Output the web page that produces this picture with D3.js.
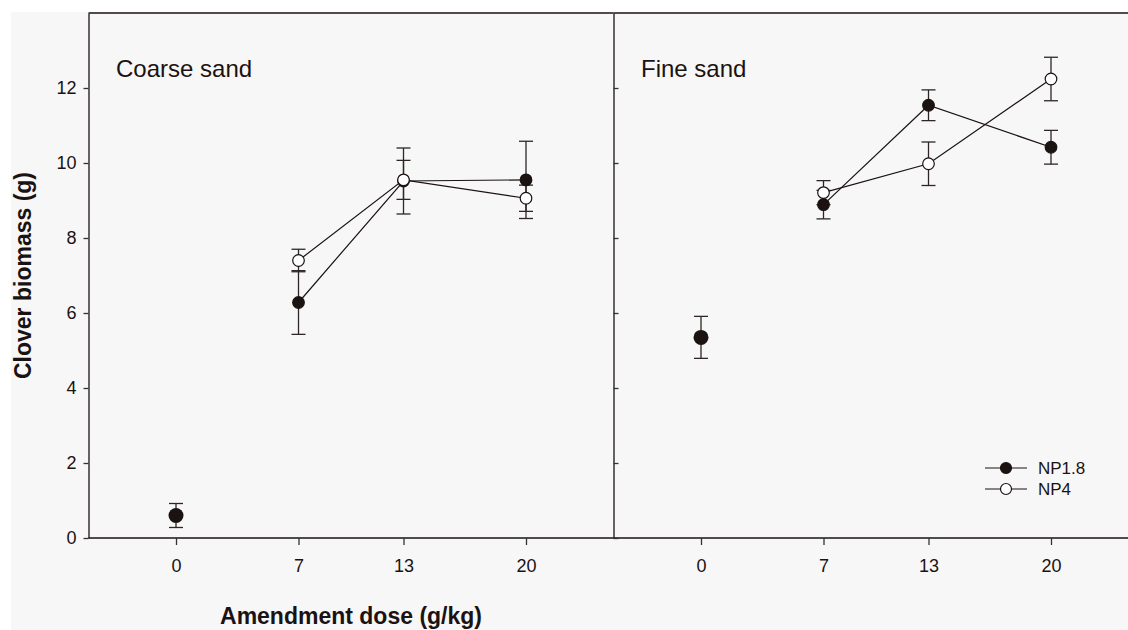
<!DOCTYPE html>
<html>
<head>
<meta charset="utf-8">
<script src="https://d3js.org/d3.v7.min.js"></script>
<style>
  body { margin: 0; background: #fff; }
  svg { display: block; }
  text { font-family: "Liberation Sans", Arial, sans-serif; fill: #1b1212; }
</style>
</head>
<body>
<div id="chart"></div>
<script>
// data
var doses = [7, 13, 20];
var xTicks = [0, 7, 13, 20];
var yTicks = [0, 2, 4, 6, 8, 10, 12];
var panels = ["Coarse sand", "Fine sand"];

var ctrlMean = [0.6, 5.35];
var ctrlErr = [0.32, 0.56];

var coarseNP18 = [6.28, 9.52, 9.55];
var coarseNP18Err = [0.85, 0.88, 1.03];
var coarseNP4 = [7.4, 9.55, 9.06];
var coarseNP4Err = [0.3, 0.52, 0.35];

var fineNP18 = [8.89, 11.54, 10.42];
var fineNP18Err = [0.38, 0.41, 0.45];
var fineNP4 = [9.21, 9.98, 12.24];
var fineNP4Err = [0.32, 0.58, 0.58];

var seriesNames = ["NP1.8", "NP4"];

var svgWidth = 1128, svgHeight = 630;
var ink = "#1b1212";

var svg = d3.select("#chart").append("svg")
    .attr("width", svgWidth).attr("height", svgHeight);

// grey page area
svg.append("rect").attr("x", 11).attr("y", 12)
    .attr("width", svgWidth - 11).attr("height", svgHeight - 12)
    .attr("fill", "#f7f7f7");

var y = d3.scaleLinear().domain([0, 14]).range([538, 13]);
var panelW = 525, left0 = 88.5;

var xScales = panels.map(function(p, i) {
    return d3.scaleLinear().domain([-5, 25]).range([left0 + i * panelW, left0 + (i + 1) * panelW]);
});

var panelData = [
    [
        { name: "NP1.8", vals: coarseNP18, err: coarseNP18Err, fill: ink },
        { name: "NP4", vals: coarseNP4, err: coarseNP4Err, fill: "#fff" }
    ],
    [
        { name: "NP1.8", vals: fineNP18, err: fineNP18Err, fill: ink },
        { name: "NP4", vals: fineNP4, err: fineNP4Err, fill: "#fff" }
    ]
];

panels.forEach(function(title, i) {
    var x = xScales[i];
    var g = svg.append("g");

    // x axis
    var xAxis = g.append("g").attr("transform", "translate(0,538)")
        .call(d3.axisBottom(x).tickValues(xTicks).tickSize(7).tickPadding(14).tickSizeOuter(0));
    xAxis.select(".domain").attr("stroke", ink).attr("stroke-width", 1.3)
        .attr("d", "M" + x.range()[0] + ",0H" + x.range()[1]);
    xAxis.selectAll(".tick line").attr("stroke", "#333").attr("stroke-width", 1.3);
    xAxis.selectAll(".tick text").attr("font-size", 18).attr("fill", ink);

    // y axis: outward on left panel, inward on right
    var yAxis = g.append("g").attr("transform", "translate(" + x.range()[0] + ",0)")
        .call((i === 0 ? d3.axisLeft(y) : d3.axisRight(y)).tickValues(yTicks).tickSize(5).tickPadding(7).tickSizeOuter(0));
    yAxis.select(".domain").attr("stroke", ink).attr("stroke-width", 1.3);
    yAxis.selectAll(".tick line").attr("stroke", "#333").attr("stroke-width", 1.3);
    if (i === 0) {
        yAxis.selectAll(".tick text").attr("font-size", 18).attr("fill", ink);
    } else {
        yAxis.selectAll(".tick text").remove();
    }

    // top border
    g.append("line").attr("x1", x.range()[0]).attr("x2", x.range()[1])
        .attr("y1", y(14)).attr("y2", y(14))
        .attr("stroke", ink).attr("stroke-width", 1.3);

    g.append("text").attr("x", x(-5) + 27.5).attr("y", 77)
        .attr("font-size", 24).text(title);

    // lines
    var line = d3.line().x(function(d) { return x(d[0]); }).y(function(d) { return y(d[1]); });
    panelData[i].forEach(function(s) {
        g.append("path").datum(doses.map(function(d, k) { return [d, s.vals[k]]; }))
            .attr("d", line).attr("fill", "none").attr("stroke", ink).attr("stroke-width", 1.2);
    });

    // error bars
    var bars = [];
    panelData[i].forEach(function(s) {
        doses.forEach(function(d, k) { bars.push({ x: d, m: s.vals[k], e: s.err[k] }); });
    });
    bars.push({ x: 0, m: ctrlMean[i], e: ctrlErr[i] });
    bars.forEach(function(b) {
        var cx = x(b.x);
        g.append("line").attr("x1", cx).attr("x2", cx)
            .attr("y1", y(b.m - b.e)).attr("y2", y(b.m + b.e))
            .attr("stroke", "#2e2626").attr("stroke-width", 1.3);
        [b.m - b.e, b.m + b.e].forEach(function(v) {
            g.append("line").attr("x1", cx - 7).attr("x2", cx + 7)
                .attr("y1", y(v)).attr("y2", y(v))
                .attr("stroke", "#2e2626").attr("stroke-width", 1.3);
        });
    });

    // markers
    panelData[i].forEach(function(s) {
        g.selectAll(null).data(doses).enter().append("circle")
            .attr("cx", function(d) { return x(d); })
            .attr("cy", function(d, k) { return y(s.vals[k]); })
            .attr("r", 5.8)
            .attr("fill", s.fill).attr("stroke", ink).attr("stroke-width", 1.2);
    });
    g.append("circle").attr("cx", x(0)).attr("cy", y(ctrlMean[i]))
        .attr("r", 7.5).attr("fill", ink);
});

// legend
var legend = svg.append("g");
seriesNames.forEach(function(n, k) {
    var ly = 468 + k * 21;
    legend.append("line").attr("x1", 985).attr("x2", 1027).attr("y1", ly).attr("y2", ly)
        .attr("stroke", ink).attr("stroke-width", 1.2);
    legend.append("circle").attr("cx", 1006).attr("cy", ly).attr("r", 5.5)
        .attr("fill", k === 0 ? ink : "#fff").attr("stroke", ink).attr("stroke-width", 1.2);
    legend.append("text").attr("x", 1038).attr("y", ly + 6).attr("font-size", 17).text(n);
});

// axis titles
svg.append("text").attr("x", (xScales[0].range()[0] + xScales[0].range()[1]) / 2).attr("y", 624)
    .attr("text-anchor", "middle").attr("font-size", 23).attr("font-weight", "bold")
    .text("Amendment dose (g/kg)");

svg.append("text").attr("transform", "translate(31," + (y(7)) + ") rotate(-90)")
    .attr("text-anchor", "middle").attr("font-size", 23).attr("font-weight", "bold")
    .text("Clover biomass (g)");
</script>
</body>
</html>
